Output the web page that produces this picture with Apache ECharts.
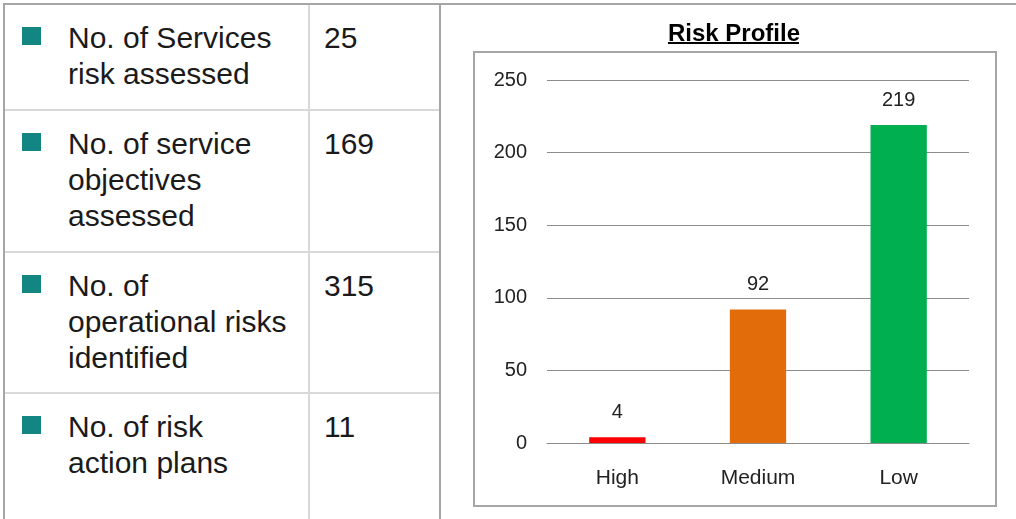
<!DOCTYPE html>
<html>
<head>
<meta charset="utf-8">
<script src="https://cdn.jsdelivr.net/npm/echarts@6/dist/echarts.min.js"></script>
<style>
    html, body {
        margin: 0;
        padding: 0;
        background: #fff;
        width: 1016px;
        height: 519px;
        overflow: hidden;
        position: relative;
        font-family: "Liberation Sans", Arial, sans-serif;
    }
    .line { position: absolute; }
    .dark { background: #a6a6a6; }
    .light { background: #d9d9d9; }
    .cell-text {
        position: absolute;
        font-size: 30px;
        line-height: 36px;
        color: #1a1a1a;
        white-space: nowrap;
    }
    .bullet {
        position: absolute;
        width: 19px;
        height: 18px;
        background: #138583;
    }
    #bar-chart {
        position: absolute;
        left: 441px;
        top: 0;
        width: 575px;
        height: 519px;
    }
</style>
</head>
<body>
<div id="table"></div>
<div id="bar-chart"></div>
<script>
    // left side summary table
    var summaryLabels = [
        ['No. of Services', 'risk assessed'],
        ['No. of service', 'objectives', 'assessed'],
        ['No. of', 'operational risks', 'identified'],
        ['No. of risk', 'action plans']
    ];
    var summaryValues = [25, 169, 315, 11];

    // chart data
    var riskLevels = ['High', 'Medium', 'Low'];
    var riskCounts = [4, 92, 219];
    var barColors = ['#ff0000', '#e36c0a', '#00b050'];

    var rowTops = [4, 110, 252, 393];

    (function buildTable() {
        var html = '';
        html += '<div class="line dark" style="left:4px;top:3px;width:1012px;height:2px"></div>';
        html += '<div class="line dark" style="left:3px;top:3px;width:2px;height:516px"></div>';
        html += '<div class="line light" style="left:308px;top:5px;width:2px;height:514px"></div>';
        html += '<div class="line dark" style="left:439px;top:5px;width:2px;height:514px"></div>';
        for (var i = 0; i < summaryLabels.length; i++) {
            var rowTop = rowTops[i];
            if (i > 0) {
                html += '<div class="line light" style="left:5px;top:' + (rowTop - 1) + 'px;width:434px;height:2px"></div>';
            }
            html += '<div class="bullet" style="left:22px;top:' + (rowTop + 23) + 'px"></div>';
            html += '<div class="cell-text" style="left:68px;top:' + (rowTop + 16) + 'px">' + summaryLabels[i].join('<br>') + '</div>';
            html += '<div class="cell-text" style="left:324px;top:' + (rowTop + 16) + 'px">' + summaryValues[i] + '</div>';
        }
        document.getElementById('table').innerHTML = html;
    })();

    var myChart = echarts.init(document.getElementById('bar-chart'));
    myChart.setOption({
        animation: false,
        title: {
            text: 'Risk Profile',
            left: 222,
            top: 17,
            textStyle: {
                fontFamily: 'Liberation Sans',
                fontWeight: 'bold',
                fontSize: 24,
                color: '#000'
            }
        },
        graphic: [
            {
                // underline of the title
                type: 'rect',
                shape: { x: 227, y: 42, width: 131, height: 2 },
                style: { fill: '#000' }
            },
            {
                // chart area frame
                type: 'rect',
                shape: { x: 33, y: 52, width: 522, height: 454 },
                style: { fill: 'none', stroke: '#a6a6a6', lineWidth: 2 }
            }
        ],
        grid: {
            left: 106,
            right: 47,
            top: 80,
            bottom: 76
        },
        xAxis: {
            type: 'category',
            data: riskLevels,
            axisLine: {
                lineStyle: { color: '#8c8c8c', width: 1 }
            },
            axisTick: {
                length: 9,
                lineStyle: { color: '#8c8c8c' }
            },
            axisLabel: {
                margin: 25,
                fontFamily: 'Liberation Sans',
                fontSize: 21,
                color: '#222'
            }
        },
        yAxis: {
            type: 'value',
            min: 0,
            max: 250,
            interval: 50,
            axisLine: { show: false },
            axisTick: { show: false },
            splitLine: {
                lineStyle: { color: '#8c8c8c', width: 1 }
            },
            axisLabel: {
                margin: 20,
                fontFamily: 'Liberation Sans',
                fontSize: 20,
                color: '#222'
            }
        },
        series: [{
            type: 'bar',
            barWidth: '40%',
            data: riskCounts.map(function (v, i) {
                return { value: v, itemStyle: { color: barColors[i] } };
            }),
            label: {
                show: true,
                position: 'top',
                distance: 15,
                fontFamily: 'Liberation Sans',
                fontSize: 20,
                color: '#222'
            }
        }]
    });
</script>
</body>
</html>
